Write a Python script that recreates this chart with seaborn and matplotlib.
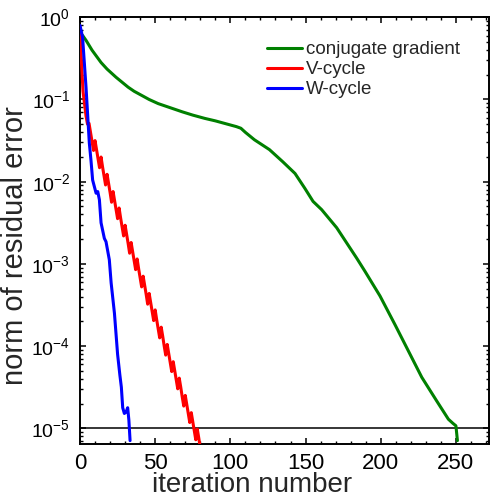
import numpy as np
import pandas as pd
import matplotlib
matplotlib.use("Agg")
import matplotlib.pyplot as plt
import seaborn as sns
from matplotlib.ticker import LogLocator, MultipleLocator, NullFormatter

# ---- data (log10 of residual norm) ----
cg_iter = [0, 1.7, 4, 6, 8, 10, 12, 14, 16, 18, 21, 24, 28, 32, 36, 41, 46, 52,
           60, 68, 75, 83, 90, 98, 104, 107, 110, 116, 126, 135, 143, 149.5,
           155, 160.7, 170.7, 184, 189.5, 199.5, 209.5, 218.4, 227.3, 237.3,
           245, 248, 250, 251]
cg_log = [-0.21, -0.22, -0.28, -0.34, -0.40, -0.45, -0.50, -0.55, -0.59, -0.63,
          -0.68, -0.73, -0.79, -0.85, -0.90, -0.95, -1.00, -1.05, -1.10, -1.15,
          -1.19, -1.23, -1.26, -1.30, -1.33, -1.35, -1.40, -1.49, -1.61, -1.76,
          -1.90, -2.08, -2.24, -2.34, -2.56, -2.93, -3.09, -3.39, -3.74, -4.06,
          -4.38, -4.67, -4.89, -4.94, -4.97, -5.15]

v_iter = list(range(0, 81))
v_log = [-0.12, -0.55, -0.90, -1.05, -1.20, -1.30, -1.29, -1.40, -1.51, -1.62,
         -1.50, -1.61, -1.72, -1.83, -1.70, -1.82, -1.93, -2.04, -1.91, -2.02,
         -2.13, -2.25, -2.12, -2.23, -2.34, -2.45, -2.32, -2.44, -2.55, -2.66,
         -2.53, -2.64, -2.75, -2.87, -2.74, -2.85, -2.96, -3.07, -2.94, -3.06,
         -3.17, -3.28, -3.15, -3.26, -3.37, -3.49, -3.36, -3.47, -3.58, -3.69,
         -3.56, -3.68, -3.79, -3.90, -3.77, -3.88, -4.00, -4.11, -3.98, -4.09,
         -4.20, -4.31, -4.19, -4.30, -4.41, -4.52, -4.39, -4.50, -4.62, -4.73,
         -4.60, -4.71, -4.82, -4.93, -4.81, -4.92, -5.03, -5.14, -5.01, -5.12,
         -5.24]

w_iter = [0, 1.7, 4, 6.2, 7.3, 8.4, 10.7, 11.8, 12.9, 14, 16.2, 17.3, 19.5,
          20.7, 22.9, 25, 26.5, 27.5, 28.4, 29.5, 30.7, 31.7, 32.5, 33.3]
w_log = [-0.10, -0.24, -0.85, -1.53, -1.74, -1.98, -2.14, -2.12, -2.22, -2.50,
         -2.69, -2.73, -2.95, -3.23, -3.60, -4.10, -4.35, -4.50, -4.75, -4.82,
         -4.80, -4.75, -4.90, -5.15]

series_names = ["conjugate gradient", "V-cycle", "W-cycle"]
series_colors = ["#008000", "#ff0000", "#0000ff"]
tolerance = 1e-5

frames = []
for name, xs, ls in zip(series_names, [cg_iter, v_iter, w_iter], [cg_log, v_log, w_log]):
    frames.append(pd.DataFrame({"iteration": xs,
                                "residual": 10.0 ** np.array(ls),
                                "method": name}))
df = pd.concat(frames, ignore_index=True)

sns.set_style("ticks")
plt.rcParams.update({
    "font.family": ["Liberation Sans", "DejaVu Sans"],
    "mathtext.fontset": "custom",
    "mathtext.rm": "Liberation Sans",
    "mathtext.it": "Liberation Sans:italic",
    "xtick.direction": "in", "ytick.direction": "in",
    "xtick.top": True, "ytick.right": True,
    "xtick.bottom": True, "ytick.left": True,
    "xtick.minor.visible": True, "ytick.minor.visible": True,
    "xtick.color": "black", "ytick.color": "black",
})

fig = plt.figure(figsize=(4.92, 4.99), dpi=100)
ax = fig.add_axes([80 / 492, 1 - 444.3 / 499, (489 - 80) / 492, (444.3 - 17.3) / 499])

ax.axhline(tolerance, color="black", lw=1.1, zorder=1)
sns.lineplot(data=df, x="iteration", y="residual", hue="method",
             hue_order=series_names, palette=series_colors, ax=ax,
             linewidth=2.2, sort=False, estimator=None, zorder=3)

ax.set_yscale("log")
ax.set_xlim(0, 272)
ax.set_ylim(10 ** -5.195, 1)
ax.xaxis.set_major_locator(MultipleLocator(50))
ax.xaxis.set_minor_locator(MultipleLocator(10))
ax.yaxis.set_major_locator(LogLocator(base=10, numticks=10))
ax.yaxis.set_minor_locator(LogLocator(base=10, subs=np.arange(2, 10), numticks=10))
ax.yaxis.set_minor_formatter(NullFormatter())

for s in ax.spines.values():
    s.set_linewidth(1.4)
    s.set_color("black")
ax.tick_params(which="both", direction="in", top=True, right=True,
               bottom=True, left=True, color="black")
ax.tick_params(which="major", length=4.5, width=1.1, pad=6)
ax.tick_params(which="minor", length=2.5, width=1.0)
ax.tick_params(axis="x", which="major", labelsize=16)
ax.tick_params(axis="y", which="major", labelsize=14, pad=7)

ax.set_xlabel("iteration number", fontsize=20)
ax.set_ylabel("norm of residual error", fontsize=21)
ax.xaxis.set_label_coords(0.42, -0.066)
ax.yaxis.set_label_coords(-0.124, 0.466)

leg = ax.legend(loc="upper right", bbox_to_anchor=(0.96, 0.975), frameon=False,
                fontsize=13.5, handlelength=1.85, handletextpad=0.2,
                labelspacing=0.15, borderaxespad=0.3)
for line in leg.get_lines():
    line.set_linewidth(2.2)

fig.savefig("out.png", dpi=100)
